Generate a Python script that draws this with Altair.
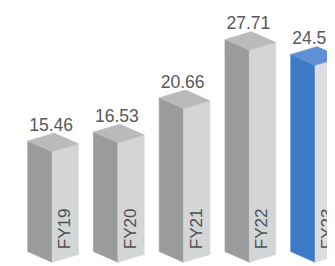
import altair as alt
import pandas as pd

# ---- data ----
categories = ["FY19", "FY20", "FY21", "FY22", "FY23"]
value_labels = ["15.46", "16.53", "20.66", "27.71", "24.55"]
bar_heights = [15.46, 16.53, 20.66, 27.71, 25.9]
highlight = [False, False, False, False, True]

# ---- layout / style constants ----
PXU = 8.49          # pixels per value unit (y)
SLOT = 67.4         # pixels per bar slot (x)
W, H = 327, 258
X_DOMAIN = [-45.2 / SLOT, (W - 45.2) / SLOT]
Y_MAX = 32.42
Y_DOMAIN = [Y_MAX - H / PXU, Y_MAX]
BASE = 2.1

LEFT_W, LEFT_RISE = 25, 11
RIGHT_W, RIGHT_RISE = 27, 8
dl, hl = LEFT_W / SLOT, LEFT_RISE / PXU
dr, hr = RIGHT_W / SLOT, RIGHT_RISE / PXU

GRAY = {"left": "#9a9b9d", "right": "#d4d5d7", "top": "#b9babc"}
BLUE = {"left": "#3e7bc6", "right": "#dcdde0", "top": "#5f90d6"}

rows = []
for i, (cat, h, hi) in enumerate(zip(categories, bar_heights, highlight)):
    pal = BLUE if hi else GRAY
    xf = i
    def add(face, x, y, y2):
        rows.append({"poly": f"{cat}-{face}", "x": x, "y": y, "y2": y2, "fill": pal[face]})
    # left face
    add("left", xf - dl, h + hl, BASE + hl)
    add("left", xf, h, BASE)
    # right face
    add("right", xf, h, BASE)
    add("right", xf + dr, h + hr, BASE + hr)
    # top face (rhombus L, F, R, B)
    add("top", xf - dl, h + hl, h + hl)
    add("top", xf, h + hl + hr * dl / dr, h)
    add("top", xf - dl + dr, h + hl + hr, h + hr * (dr - dl) / dr)
    add("top", xf + dr, h + hr, h + hr)

faces = pd.DataFrame(rows)

labels_df = pd.DataFrame({
    "x": [i - 1 / SLOT for i in range(len(categories))],
    "y": [h + 21.5 / PXU for h in bar_heights],
    "text": value_labels,
})

cat_df = pd.DataFrame({
    "x": [i + (RIGHT_W / 2) / SLOT for i in range(len(categories))],
    "y": [Y_MAX - (252 - 8) / PXU] * len(categories),
    "text": categories,
})

xs = alt.Scale(domain=X_DOMAIN, nice=False, zero=False)
ys = alt.Scale(domain=Y_DOMAIN, nice=False, zero=False)

bars = alt.Chart(faces).mark_area(strokeWidth=0.6, clip=False).encode(
    x=alt.X("x:Q", scale=xs, axis=None),
    y=alt.Y("y:Q", scale=ys, axis=None),
    y2="y2:Q",
    detail="poly:N",
    fill=alt.Fill("fill:N", scale=None),
    stroke=alt.Stroke("fill:N", scale=None),
)

vals = alt.Chart(labels_df).mark_text(
    font="Liberation Sans", fontSize=18, color="#58595b",
    align="center", baseline="alphabetic",
).encode(
    x=alt.X("x:Q", scale=xs, axis=None),
    y=alt.Y("y:Q", scale=ys, axis=None),
    text="text:N",
)

cats = alt.Chart(cat_df).mark_text(
    font="Liberation Sans", fontSize=17.5, color="#4f5052",
    align="left", baseline="middle", angle=270,
).encode(
    x=alt.X("x:Q", scale=xs, axis=None),
    y=alt.Y("y:Q", scale=ys, axis=None),
    text="text:N",
)

chart = alt.layer(bars, vals, cats).properties(
    width=W, height=H, padding=0,
    autosize=alt.AutoSizeParams(type="none"),
    background="white",
).configure_view(stroke=None)

chart.save("out.html", embed_options={"renderer": "svg", "actions": False})
